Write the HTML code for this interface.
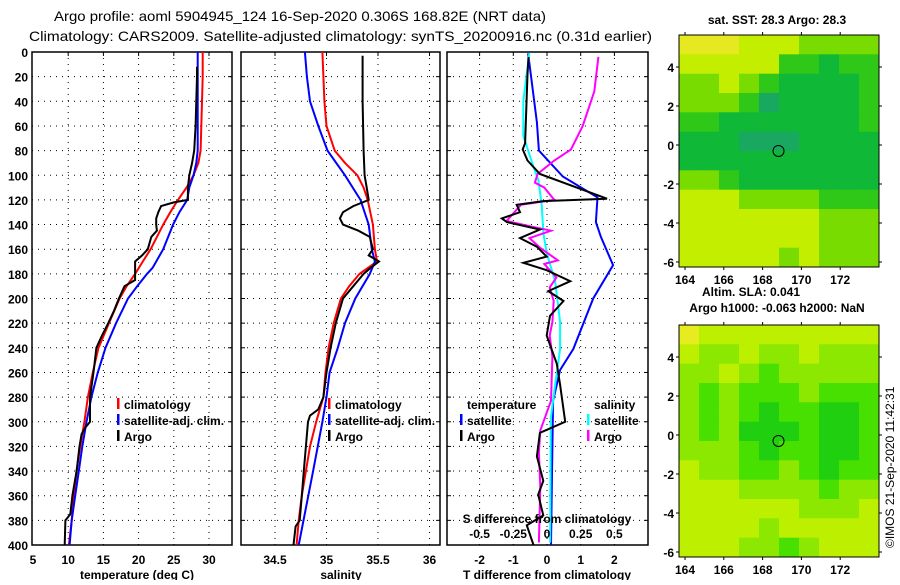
<!DOCTYPE html>
<html><head><meta charset="utf-8"><style>
body{margin:0;background:#fff;}
svg text{font-family:"Liberation Sans",sans-serif;}
.t{font-size:12px;font-weight:bold;fill:#000;}
</style></head><body>
<svg id="fig" width="900" height="580" viewBox="0 0 900 580" xmlns="http://www.w3.org/2000/svg">
<text x="54" y="21" font-size="14" textLength="492" lengthAdjust="spacingAndGlyphs">Argo profile: aoml 5904945_124 16-Sep-2020 0.306S 168.82E (NRT data)</text>
<text x="29" y="41" font-size="14" textLength="623" lengthAdjust="spacingAndGlyphs">Climatology: CARS2009. Satellite-adjusted climatology: synTS_20200916.nc (0.31d earlier)</text>
<g id="p1"></g>
<g id="p2"></g>
<g id="p3"></g>
<g id="m1"></g>
<g id="m2"></g>
<text class="t" x="777" y="24" text-anchor="middle">sat. SST: 28.3 Argo: 28.3</text>
<text class="t" x="751" y="296" text-anchor="middle">Altim. SLA: 0.041</text>
<text class="t" x="777" y="312" text-anchor="middle">Argo h1000: -0.063 h2000: NaN</text>
<text x="0" y="0" font-size="12" transform="translate(894,548) rotate(-90)">©IMOS 21-Sep-2020 11:42:31</text>
</svg>
<script>
const depthTicks=[0,20,40,60,80,100,120,140,160,180,200,220,240,260,280,300,320,340,360,380,400];
const tempTicks=[5,10,15,20,25,30];
const salTicks=["34.5","35","35.5","36"];
const tdTicks=[-2,-1,0,1,2];
const sdTicks=["-0.5","-0.25","0","0.25","0.5"];
const tClimD=[0,20,40,60,80,90,100,110,120,130,140,150,160,170,180,190,200,220,240,260,280,300,320,340,360,380,400];
const tClimV=[29.1,29.1,29.0,28.9,28.8,28.5,27.8,26.8,25.6,24.5,23.5,22.6,21.7,20.6,19.5,18.3,17.3,15.8,14.3,13.5,12.8,12.3,11.7,11.2,10.8,10.5,10.1];
const tSatD=[0,80,90,100,110,120,130,140,160,175,180,190,200,220,240,260,280,300,320,340,360,380,400];
const tSatV=[28.4,28.4,28.2,27.8,27.2,26.9,25.8,24.9,23.5,22.0,21.2,19.8,18.5,16.8,15.3,14.2,13.3,12.6,12.0,11.5,11.0,10.5,10.2];
const tArgoD=[12,20,40,60,80,90,100,110,120,122,125,130,135,140,145,150,160,165,170,180,185,190,200,210,220,230,240,260,280,300,305,310,320,340,360,375,380,400];
const tArgoV=[28.3,28.3,28.2,28.1,27.9,27.6,27.2,27.0,27.0,25.0,23.2,22.8,22.5,22.5,22.6,21.8,21.3,20.5,19.5,19.5,19.5,18.0,17.2,16.5,15.7,14.8,14.0,13.6,13.1,13.1,12.4,11.9,11.6,11.2,10.6,10.3,9.6,9.5];
const sClimD=[0,20,40,60,80,90,100,110,120,140,160,170,180,190,200,220,240,260,280,300,320,340,360,380,400];
const sClimV=[34.96,34.97,34.98,35.0,35.08,35.18,35.3,35.36,35.4,35.45,35.47,35.49,35.32,35.22,35.14,35.07,35.02,34.99,34.97,34.9,34.84,34.8,34.76,34.73,34.71];
const sSatD=[0,20,40,60,80,100,120,140,160,170,180,200,220,240,260,280,300,340,400];
const sSatV=[34.79,34.81,34.84,34.92,35.01,35.18,35.33,35.41,35.44,35.47,35.42,35.28,35.18,35.11,35.03,35.0,34.96,34.87,34.73];
const sArgoD=[3,40,80,100,110,120,125,130,135,140,145,150,160,165,170,175,180,190,200,220,240,260,280,290,295,300,320,340,360,380,385,400];
const sArgoV=[35.35,35.35,35.36,35.37,35.39,35.41,35.26,35.16,35.13,35.16,35.31,35.42,35.45,35.41,35.51,35.43,35.36,35.26,35.16,35.09,35.04,35.0,34.97,34.92,34.84,34.82,34.8,34.78,34.76,34.74,34.7,34.68];
const dTSatD=[1,57,80,101,118,138,150,173,200,241,258,283,336,400];
const dTSatV=[-0.56,-0.3,-0.24,0.47,1.5,1.45,1.6,1.96,1.37,0.78,0.39,0.18,0.15,0.12];
const dTArgoD=[4,18,74,79,88,99,119,121,124,130,135,138,144,151,158,166,171,177,186,194,202,214,230,253,270,300,309,328,348,359,376,384,400];
const dTArgoV=[-0.55,-0.58,-0.65,-0.72,-0.58,-0.21,1.78,-0.11,-0.9,-0.8,-1.34,-1.19,-0.21,-0.8,-0.3,-0.01,-0.7,-0.01,0.69,0.04,0.49,0.09,-0.01,0.29,0.39,0.54,-0.21,-0.3,-0.11,-0.26,-0.11,-0.6,-0.4];
const dSSatD=[1,40,68,93,104,124,147,163,186,219,241,270,297,398];
const dSSatV=[-0.131,-0.176,-0.176,-0.101,-0.064,-0.039,-0.027,-0.002,0.06,0.097,0.097,0.06,0.028,0.023];
const dSArgoD=[4,32,60,79,88,99,106,110,120,124,137,141,145,151,159,169,172,183,191,202,219,230,247,283,307,325,353,398];
const dSArgoV=[0.381,0.351,0.265,0.178,0.054,-0.07,-0.09,-0.02,0.054,-0.193,-0.3,-0.14,0.03,-0.13,-0.05,0.08,-0.02,0.07,0.02,0.05,0.04,0.02,0.04,0.03,-0.05,-0.06,-0.05,-0.06];
const sstGrid=[
[5,5,5,4,4,4,3,3,3,3],[4,4,4,4,4,2,2,1,2,2],[3,3,4,3,2,1,1,1,1,2],[3,3,3,2,0,1,1,1,1,2],
[2,2,1,1,1,1,1,1,1,2],[1,1,1,0,0,0,1,1,1,1],[1,1,1,1,1,1,1,1,1,1],[3,3,2,1,1,1,1,1,1,1],
[4,4,4,3,3,3,3,2,2,2],[4,4,4,4,4,4,4,3,3,3],[4,4,4,4,4,4,4,3,3,3],[4,4,4,4,4,3,4,3,3,3]];
const slaGrid=[
[5,4,4,4,4,4,4,4,4,4],[4,3,3,4,3,3,4,3,3,3],[3,3,4,3,2,3,3,3,3,3],[3,2,3,2,2,2,3,2,2,2],
[3,2,3,2,1,2,2,1,1,2],[3,2,3,1,1,1,2,1,1,2],[3,3,3,2,1,2,2,1,1,2],[4,3,3,2,2,3,2,1,2,2],
[4,4,4,3,3,3,3,2,3,3],[4,4,4,4,4,4,3,3,3,4],[4,4,4,4,3,4,4,4,4,4],[4,4,4,3,3,2,3,4,4,4]];
const lonTicks=[164,166,168,170,172];
const latTicks=[4,2,0,-2,-4,-6];
const argoLon=168.82, argoLat=-0.306;

const NS='http://www.w3.org/2000/svg';
function mk(parent,tag,attrs,txt){const e=document.createElementNS(NS,tag);for(const k in attrs)e.setAttribute(k,attrs[k]);if(txt!==undefined)e.textContent=txt;parent.appendChild(e);return e;}
const PT=52,PB=545;
const yD=d=>PT+(PB-PT)*d/400;

function panel(g,x0,x1,xs,gridVals,left){
  mk(g,'rect',{x:x0,y:PT,width:x1-x0,height:PB-PT,fill:'none',stroke:'#000','stroke-width':1.5});
  depthTicks.forEach(d=>{const y=yD(d);
    if(d>0&&d<400){const l=mk(g,'line',{x1:x0,x2:x1,y1:y,y2:y,stroke:'#000','stroke-dasharray':'1,5','stroke-width':1});
    }
    mk(g,'line',{x1:x1-4,x2:x1,y1:y,y2:y,stroke:'#000'});
    if(!left)mk(g,'line',{x1:x0,x2:x0+4,y1:y,y2:y,stroke:'#000'});
    if(left){const t=mk(g,'text',{class:'t',x:x0-4,y:y+5,'text-anchor':'end'},d);
      }
  });
  gridVals.forEach(v=>{const x=xs(v);
    const l=mk(g,'line',{x1:x,x2:x,y1:PT,y2:PB,stroke:'#000','stroke-dasharray':'1,5'});
    
    mk(g,'line',{x1:x,x2:x,y1:PT,y2:PT+4,stroke:'#000'});});
}
function line(g,D,V,xs,col,name){
  const pts=D.map((d,i)=>xs(V[i]).toFixed(1)+','+yD(d).toFixed(1)).join(' ');
  const p=mk(g,'polyline',{points:pts,fill:'none',stroke:col,'stroke-width':2});
  
}
function legend(g,x,y,col,label,name){
  mk(g,'rect',{x:x-1,y:y-11,width:2.5,height:11,fill:col});
  const t=mk(g,'text',{class:'t',x:x+6,y:y},label);
  
}
const g1=document.getElementById('p1');
const xT=v=>33+(v-5)*35.2/5;
panel(g1,32,232,xT,tempTicks.slice(1),true);
line(g1,tClimD,tClimV,xT,'#ff0000','temp-climatology-line');
line(g1,tSatD,tSatV,xT,'#0000ff','temp-satellite-line');
line(g1,tArgoD,tArgoV,xT,'#000000','temp-argo-line');
tempTicks.forEach(v=>{const t=mk(g1,'text',{class:'t',x:xT(v),y:564,'text-anchor':'middle'},v);
  });
mk(g1,'text',{class:'t',x:137,y:579,'text-anchor':'middle',},'temperature (deg C)');
legend(g1,118,409,'#ff0000','climatology','legend-climatology');
legend(g1,118,425,'#0000ff','satellite-adj. clim.','legend-satellite');
legend(g1,118,441,'#000000','Argo','legend-argo');
const g2=document.getElementById('p2');
const xS=v=>275+(v-34.5)*103;
panel(g2,241,440,xS,salTicks.map(Number),false);
line(g2,sClimD,sClimV,xS,'#ff0000','sal-climatology-line');
line(g2,sSatD,sSatV,xS,'#0000ff','sal-satellite-line');
line(g2,sArgoD,sArgoV,xS,'#000000','sal-argo-line');
salTicks.forEach(v=>{const t=mk(g2,'text',{class:'t',x:xS(+v),y:564,'text-anchor':'middle'},v);
  });
mk(g2,'text',{class:'t',x:341,y:579,'text-anchor':'middle',},'salinity');
legend(g2,329,409,'#ff0000','climatology','legend-climatology');
legend(g2,329,425,'#0000ff','satellite-adj. clim.','legend-satellite');
legend(g2,329,441,'#000000','Argo','legend-argo');
const g3=document.getElementById('p3');
const xTD=v=>547+v*33.7;
const xSD=v=>547+v*134.8;
panel(g3,447,648,xTD,tdTicks,false);
line(g3,dTSatD,dTSatV,xTD,'#0000ff','tdiff-satellite-line');
line(g3,dSSatD,dSSatV,xSD,'#00ffff','sdiff-satellite-line');
line(g3,dSArgoD,dSArgoV,xSD,'#ff00ff','sdiff-argo-line');
line(g3,dTArgoD,dTArgoV,xTD,'#000000','tdiff-argo-line');
tdTicks.forEach(v=>{const t=mk(g3,'text',{class:'t',x:xTD(v),y:564,'text-anchor':'middle'},v);
  });
sdTicks.forEach(v=>{const t=mk(g3,'text',{class:'t',x:xSD(+v),y:538,'text-anchor':'middle'},v);
  });
mk(g3,'text',{class:'t',x:547,y:523,'text-anchor':'middle',},'S difference from climatology');
mk(g3,'text',{class:'t',x:547,y:579,'text-anchor':'middle',},'T difference from climatology');
mk(g3,'text',{class:'t',x:467,y:409,},'temperature');
mk(g3,'text',{class:'t',x:594,y:409,},'salinity');
legend(g3,461,425,'#0000ff','satellite','legend-t-satellite');
legend(g3,461,441,'#000000','Argo','legend-t-argo');
legend(g3,588,425,'#00ffff','satellite','legend-s-satellite');
legend(g3,588,441,'#ff00ff','Argo','legend-s-argo');
const pal1=['#18a860','#10b838','#30c818','#78dc00','#c4ee00','#e6e820'];
const pal2=['#18b040','#20d010','#48e000','#8ce800','#bcf000','#e6ec20'];
function map(g,grid,pal,top,bottom){
  const L=679,R=879,x=lon=>685+(lon-164)*19.4;
  const cw=(R-L)/grid[0].length, ch=(bottom-top)/grid.length;
  grid.forEach((row,r)=>row.forEach((v,c)=>{
    const e=mk(g,'rect',{x:(L+c*cw).toFixed(1),y:(top+r*ch).toFixed(1),width:(cw+0.5).toFixed(1),height:(ch+0.5).toFixed(1),fill:pal[v]});
    
  }));
  const yl=lat=>top+110-lat*19.5;
  mk(g,'rect',{x:L,y:top,width:R-L,height:bottom-top,fill:'none',stroke:'#000'});
  lonTicks.forEach(v=>{const xx=x(v);
    mk(g,'line',{x1:xx,x2:xx,y1:top-3,y2:top,stroke:'#000'});
    mk(g,'line',{x1:xx,x2:xx,y1:bottom,y2:bottom+3,stroke:'#000'});
    const t=mk(g,'text',{class:'t','font-size':'13',x:xx,y:bottom+17,'text-anchor':'middle'},v);
    });
  latTicks.forEach(v=>{const yy=yl(v);
    mk(g,'line',{x1:L-3,x2:L,y1:yy,y2:yy,stroke:'#000'});
    mk(g,'line',{x1:R,x2:R+3,y1:yy,y2:yy,stroke:'#000'});
    const t=mk(g,'text',{class:'t','font-size':'13',x:L-5,y:yy+5,'text-anchor':'end'},v);
    });
  const c=mk(g,'circle',{cx:x(argoLon),cy:yl(argoLat),r:5.5,fill:'none',stroke:'#000','stroke-width':1});
  
}
map(document.getElementById('m1'),sstGrid,pal1,35,267);
map(document.getElementById('m2'),slaGrid,pal2,325,557);
</script>
</body></html>
